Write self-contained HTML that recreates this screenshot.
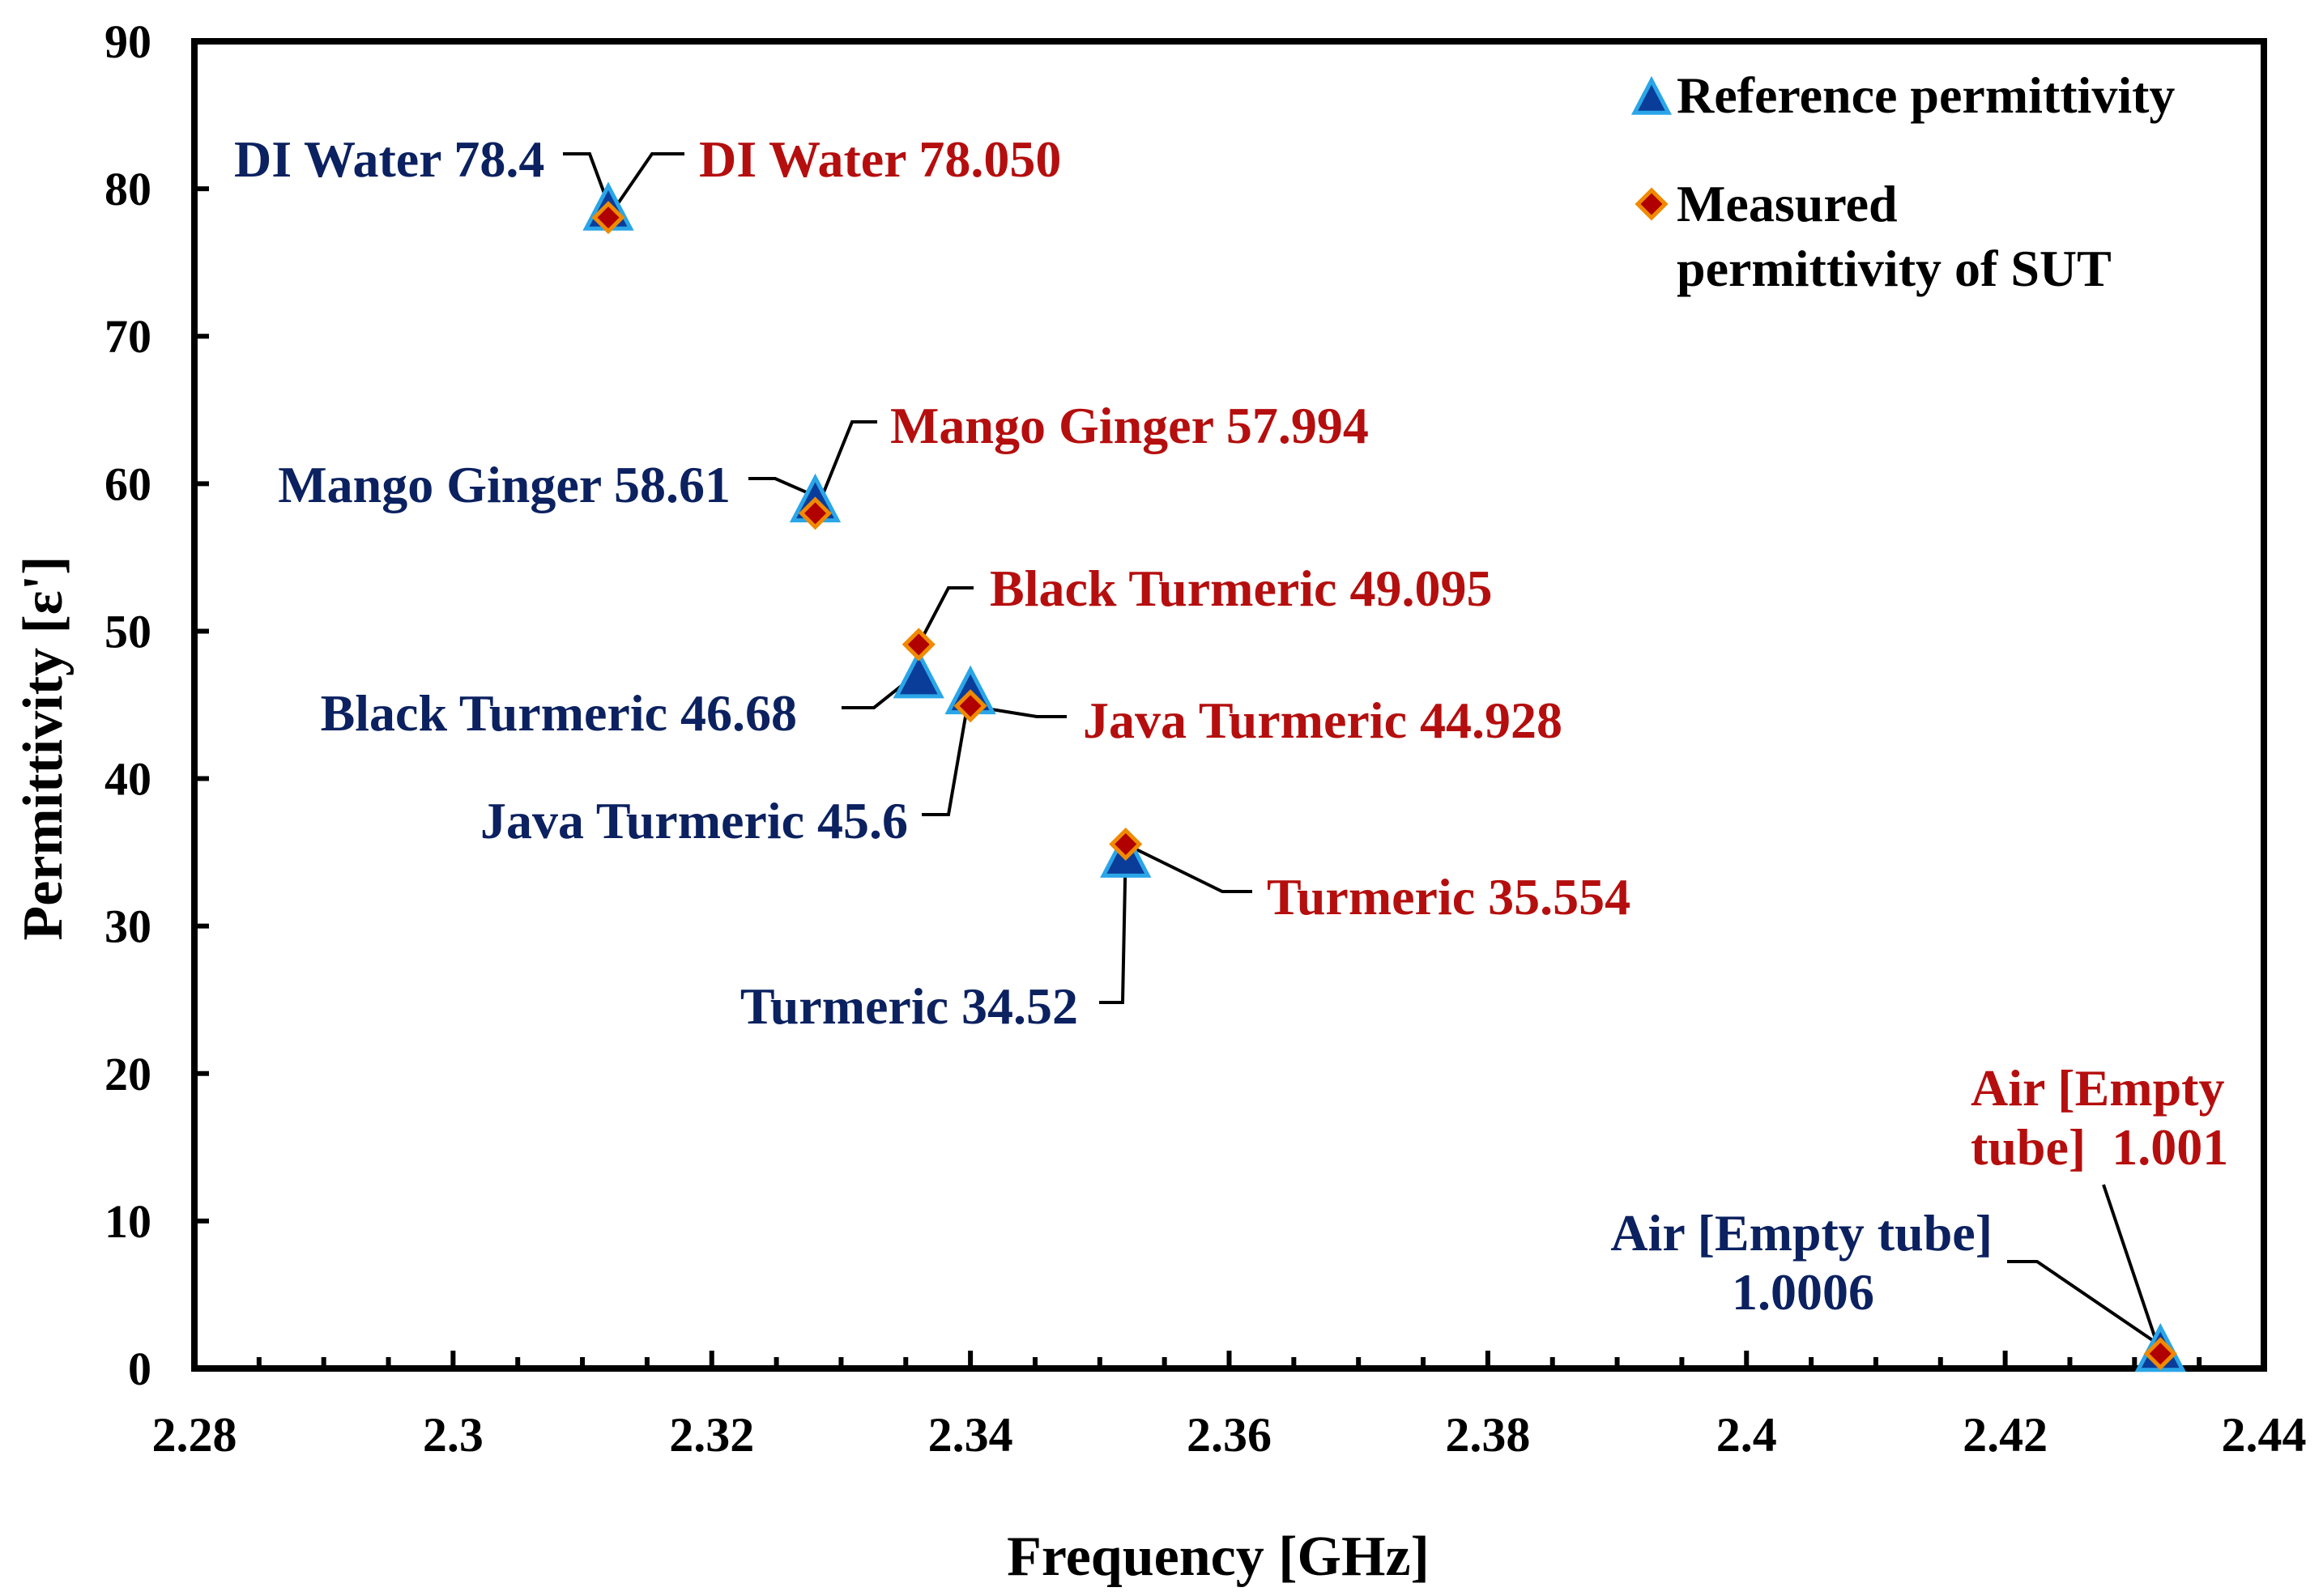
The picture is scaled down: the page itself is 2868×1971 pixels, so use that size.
<!DOCTYPE html>
<html><head><meta charset="utf-8"><style>
html,body{margin:0;padding:0;background:#fff;}
svg{display:block;font-family:"Liberation Serif",serif;font-weight:bold;}
</style></head><body>
<svg id="chart" width="2868" height="1971" viewBox="0 0 2868 1971" xmlns="http://www.w3.org/2000/svg"></svg>
<script>
const categories = ["DI Water","Mango Ginger","Black Turmeric","Java Turmeric","Turmeric","Air"];
const freqs = [2.312, 2.328, 2.336, 2.340, 2.352, 2.432];
const refValues = [78.4, 58.61, 46.68, 45.6, 34.52, 1.0006];
const measValues = [78.05, 57.994, 49.095, 44.928, 35.554, 1.001];
const xTicks = [2.28, 2.3, 2.32, 2.34, 2.36, 2.38, 2.4, 2.42, 2.44];
const xTickLabels = ["2.28","2.3","2.32","2.34","2.36","2.38","2.4","2.42","2.44"];
const yTicks = [0,10,20,30,40,50,60,70,80,90];

const L=240,R=2795,T=51,B=1690;
const X0=2.28,X1=2.44,Y0=0,Y1=90;
function sx(v){return L+(v-X0)/(X1-X0)*(R-L);}
function sy(v){return B-(v-Y0)/(Y1-Y0)*(B-T);}
const svg=document.getElementById('chart');
const NS="http://www.w3.org/2000/svg";
function mk(tag,attrs,parent){const e=document.createElementNS(NS,tag);for(const k in attrs)e.setAttribute(k,attrs[k]);(parent||svg).appendChild(e);return e;}

const box=mk('rect',{x:L,y:T,width:R-L,height:B-T,fill:'none',stroke:'#000','stroke-width':8});



for(let v=X0;v<=X1+1e-9;v+=0.005){
  const major=Math.abs(v*50-Math.round(v*50))<1e-6;
  const t=mk('line',{x1:sx(v),x2:sx(v),y1:B,y2:B-(major?22:14),stroke:'#000','stroke-width':6});
  
  
}
xTicks.forEach((v,i)=>{
  const t=mk('text',{x:sx(v),y:1792,'text-anchor':'middle','font-size':60,fill:'#000'});
  t.textContent=xTickLabels[i];
  
  
});
yTicks.forEach(v=>{
  const tk=mk('line',{x1:L,x2:L+18,y1:sy(v),y2:sy(v),stroke:'#000','stroke-width':6});
  
  
  const t=mk('text',{x:187,y:sy(v)+20,'text-anchor':'end','font-size':58,fill:'#000'});
  t.textContent=String(v);
  
  
});
const xt=mk('text',{x:1504,y:1945,'text-anchor':'middle','font-size':70,fill:'#000'});
xt.textContent='Frequency [GHz]';


const yt=mk('text',{x:0,y:0,'text-anchor':'middle','font-size':70,fill:'#000',transform:'translate(76,924) rotate(-90)'});
yt.textContent="Permittivity [ε']";



function triangle(cx,cy,s,g){
  return mk('polygon',{points:`${cx},${cy-s*0.65} ${cx-s*0.55},${cy+s*0.4} ${cx+s*0.55},${cy+s*0.4}`,fill:'#0a3c9a',stroke:'#2aa6e8','stroke-width':5},g);
}
function diamond(cx,cy,s,g){
  return mk('polygon',{points:`${cx},${cy-s} ${cx+s},${cy} ${cx},${cy+s} ${cx-s},${cy}`,fill:'#b00000',stroke:'#f08a00','stroke-width':5},g);
}

const BLUE='#0b2160', RED='#b50e0e';
const annot=[
 {txt:'DI Water 78.4',x:289,y:218,a:'start',c:BLUE,path:[[695,190],[728,190]],pt:[0,'ref']},
 {txt:'DI Water 78.050',x:863,y:218,a:'start',c:RED,path:[[845,190],[805,190]],pt:[0,'meas']},
 {txt:'Mango Ginger 57.994',x:1099,y:547,a:'start',c:RED,path:[[1083,521],[1052,521]],pt:[1,'meas']},
 {txt:'Mango Ginger 58.61',x:902,y:620,a:'end',c:BLUE,path:[[924,591],[957,591]],pt:[1,'ref']},
 {txt:'Black Turmeric 49.095',x:1222,y:748,a:'start',c:RED,path:[[1202,726],[1171,726]],pt:[2,'meas']},
 {txt:'Black Turmeric 46.68',x:984,y:902,a:'end',c:BLUE,path:[[1039,874],[1079,874]],pt:[2,'ref']},
 {txt:'Java Turmeric 44.928',x:1337,y:911,a:'start',c:RED,path:[[1317,885],[1280,885]],pt:[3,'meas']},
 {txt:'Java Turmeric 45.6',x:1121,y:1035,a:'end',c:BLUE,path:[[1138,1006],[1171,1006]],pt:[3,'ref']},
 {txt:'Turmeric 35.554',x:1564,y:1129,a:'start',c:RED,path:[[1546,1101],[1509,1101]],pt:[4,'meas']},
 {txt:'Turmeric 34.52',x:1331,y:1264,a:'end',c:BLUE,path:[[1357,1238],[1386,1238]],pt:[4,'ref']},
 {txt:'Air [Empty',x:2433,y:1365,a:'start',c:RED,path:[[2597,1463]],pt:[5,'meas']},
 {txt:'tube]  1.001',x:2433,y:1438,a:'start',c:RED,path:null},
 {txt:'Air [Empty tube]',x:2460,y:1544,a:'end',c:BLUE,path:[[2478,1558],[2515,1558]],pt:[5,'ref']},
 {txt:'1.0006',x:2226,y:1617,a:'middle',c:BLUE,path:null}
];
annot.forEach(o=>{
  if(o.path){
    const i=o.pt[0];
    const tx=sx(freqs[i]);
    const ty=o.pt[1]==='ref'?sy(refValues[i])-10:sy(measValues[i]);
    const pts=o.path.concat([[tx,ty]]).map(p=>p.join(',')).join(' ');
    const l=mk('polyline',{points:pts,fill:'none',stroke:'#000','stroke-width':4});
    
    
  }
  const t=mk('text',{x:o.x,y:o.y,'text-anchor':o.a,'font-size':64,fill:o.c});
  t.setAttribute('xml:space','preserve');
  t.style.whiteSpace='pre';
  t.textContent=o.txt;
  
  
});

const gRef=mk('g',{});


freqs.forEach((f,i)=>{
  const p=triangle(sx(f),sy(refValues[i]),50,gRef);
  
  
});
const gMeas=mk('g',{});


freqs.forEach((f,i)=>{
  const p=diamond(sx(f),sy(measValues[i]),17,gMeas);
  
  
});

const lg=mk('g',{});


const lt=triangle(2039,124,38,lg);


const ld=diamond(2039,252,17,lg);


[['Reference permittivity',139],['Measured',273],['permittivity of SUT',353]].forEach(r=>{
  const t=mk('text',{x:2070,y:r[1],'font-size':64,fill:'#000'},lg);
  t.textContent=r[0];
  
  
});
</script>
</body></html>
